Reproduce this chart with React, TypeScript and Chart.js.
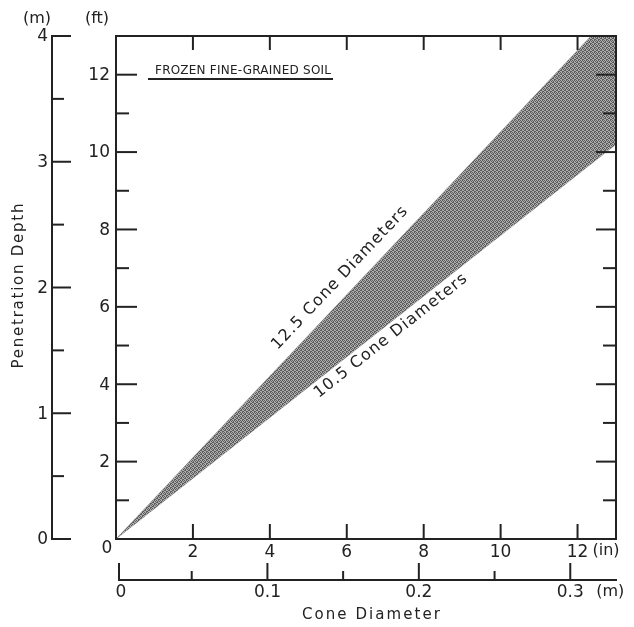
import React, { useEffect, useRef } from "react";
import { Chart, registerables } from "chart.js";

Chart.register(...registerables);

// ---- data ----
const diameterIn = [0, 12.35, 13];
const upperFt = [0, 13, 13]; // "12.5 Cone Diameters" boundary (clipped at 13 ft)
const lowerFt = [0, 9.69, 10.2]; // "10.5 Cone Diameters" boundary

const inTicks = [2, 4, 6, 8, 10, 12];
const inLabels = ["2", "4", "6", "8", "10", "12"];
const ftTicks = [1, 2, 3, 4, 5, 6, 7, 8, 9, 10, 11, 12];
const ftLabelTicks = [2, 4, 6, 8, 10, 12];
const ftLabels = ["2", "4", "6", "8", "10", "12"];
const mDepthTicks = [0, 0.5, 1, 1.5, 2, 2.5, 3, 3.5, 4];
const mDepthLabelTicks = [0, 1, 2, 3, 4];
const mDepthLabels = ["0", "1", "2", "3", "4"];
const mDiamTicks = [0, 0.05, 0.1, 0.15, 0.2, 0.25, 0.3];
const mDiamLabelTicks = [0, 0.1, 0.2, 0.3];
const mDiamLabels = ["0", "0.1", "0.2", "0.3"];

const title = "FROZEN FINE-GRAINED SOIL";
const upperLabel = "12.5 Cone Diameters";
const lowerLabel = "10.5 Cone Diameters";
const upperLabelPos = { x: 4.2, y: 4.88 };
const lowerLabelPos = { x: 5.27, y: 3.64 };

const FONT = '"DejaVu Sans", "Open Sans", sans-serif';
const INK = "#222222";

function makePattern(): CanvasPattern | string {
  const c = document.createElement("canvas");
  c.width = 4;
  c.height = 4;
  const g = c.getContext("2d");
  if (!g) return "#8a8a8a";
  g.fillStyle = "#adadad";
  g.fillRect(0, 0, 4, 4);
  g.fillStyle = "#5c5c5c";
  const dark = [
    [0, 0], [2, 0], [1, 1], [3, 1], [0, 2], [1, 2], [3, 3], [2, 3],
  ];
  dark.forEach(([x, y]) => g.fillRect(x, y, 1, 1));
  const p = g.createPattern(c, "repeat");
  return p || "#8a8a8a";
}

function spacedText(
  ctx: CanvasRenderingContext2D,
  text: string,
  x: number,
  y: number,
  targetW: number,
  align: "left" | "center" = "left"
) {
  ctx.save();
  (ctx as any).letterSpacing = "0px";
  const w = ctx.measureText(text).width;
  const s = Math.max(0, (targetW - w) / Math.max(1, text.length - 1));
  (ctx as any).letterSpacing = `${s}px`;
  ctx.textAlign = "left";
  const sx = align === "center" ? x - targetW / 2 : x;
  ctx.fillText(text, sx, y);
  ctx.restore();
}

const axesPlugin = {
  id: "customAxes",
  afterDraw(chart: any) {
    const ctx: CanvasRenderingContext2D = chart.ctx;
    const { left, right, top, bottom } = chart.chartArea;
    const sx = chart.scales.x;
    const sy = chart.scales.y;
    const sxm = chart.scales.xm;
    const sym = chart.scales.ym;

    ctx.save();
    ctx.strokeStyle = INK;
    ctx.fillStyle = INK;
    ctx.lineWidth = 2;
    ctx.lineCap = "butt";

    const line = (x1: number, y1: number, x2: number, y2: number) => {
      ctx.beginPath();
      ctx.moveTo(x1, y1);
      ctx.lineTo(x2, y2);
      ctx.stroke();
    };

    // frame
    ctx.beginPath();
    ctx.rect(left, top, right - left, bottom - top);
    ctx.stroke();

    // ft ticks, left and right (inward)
    ftTicks.forEach((v) => {
      const py = sy.getPixelForValue(v);
      const major = v % 2 === 0;
      line(left, py, left + (major ? 21 : 13), py);
      line(right, py, right - (major ? 20 : 13), py);
    });
    // in ticks, bottom and top (inward)
    inTicks.forEach((v) => {
      const px = sx.getPixelForValue(v);
      line(px, bottom, px, bottom - 15);
      line(px, top, px, top + 14);
    });

    // labels
    ctx.font = `17px ${FONT}`;
    ctx.textBaseline = "middle";
    ctx.textAlign = "right";
    ftLabelTicks.forEach((v, i) => {
      ctx.fillText(ftLabels[i], left - 6, sy.getPixelForValue(v) + 1);
    });
    ctx.textAlign = "center";
    inLabels.forEach((lab, i) => {
      ctx.fillText(lab, sx.getPixelForValue(inTicks[i]), bottom + 14);
    });
    // origin 0
    ctx.fillText("0", left - 9, bottom + 10);

    ctx.font = `16px ${FONT}`;
    ctx.textAlign = "left";
    ctx.fillText("(in)", sx.getPixelForValue(12) + 15, bottom + 12);

    // left metre axis
    const mx = 52;
    line(mx, sym.getPixelForValue(0) + 1, mx, sym.getPixelForValue(4) - 1);
    mDepthTicks.forEach((v) => {
      const py = sym.getPixelForValue(v);
      const major = Number.isInteger(v);
      line(mx - 1, py, mx + (major ? 19 : 12), py);
    });
    ctx.font = `17px ${FONT}`;
    ctx.textAlign = "right";
    mDepthLabelTicks.forEach((v, i) => {
      ctx.fillText(mDepthLabels[i], mx - 4, sym.getPixelForValue(v) + 1);
    });

    // bottom metre axis
    const my = 580;
    line(sxm.getPixelForValue(0) + 2, my, sxm.getPixelForValue(sxm.max) + 1, my);
    mDiamTicks.forEach((v) => {
      const px = sxm.getPixelForValue(v) + (v === 0 ? 3 : 0);
      const major = Math.abs((v * 10) - Math.round(v * 10)) < 1e-6;
      line(px, my + 1, px, my - (major ? 17 : 9));
    });
    ctx.textAlign = "center";
    mDiamLabelTicks.forEach((v, i) => {
      const px = sxm.getPixelForValue(v) + (v === 0 ? 5 : 0);
      ctx.fillText(mDiamLabels[i], px, my + 13);
    });
    ctx.font = `16px ${FONT}`;
    ctx.textAlign = "left";
    ctx.fillText("(m)", sxm.getPixelForValue(0.3) + 26, my + 12);

    // unit headers
    ctx.font = `16px ${FONT}`;
    ctx.textAlign = "center";
    ctx.fillText("(m)", 37, 19);
    ctx.fillText("(ft)", 97, 19);

    // axis titles
    ctx.font = `15px ${FONT}`;
    ctx.textBaseline = "middle";
    spacedText(ctx, "Cone Diameter", 371, 615, 138, "center");
    ctx.save();
    ctx.translate(19, 286);
    ctx.rotate(-Math.PI / 2);
    spacedText(ctx, "Penetration Depth", 0, 0, 165, "center");
    ctx.restore();

    // title with underline
    ctx.font = `12px ${FONT}`;
    ctx.textBaseline = "alphabetic";
    spacedText(ctx, title, 155, 74, 176, "left");
    line(148, 79, 333, 79);

    // band labels
    const p0x = sx.getPixelForValue(0);
    const p0y = sy.getPixelForValue(0);
    const angU = Math.atan2(
      sy.getPixelForValue(upperFt[1]) - p0y,
      sx.getPixelForValue(diameterIn[1]) - p0x
    );
    const angL = Math.atan2(
      sy.getPixelForValue(lowerFt[2]) - p0y,
      sx.getPixelForValue(diameterIn[2]) - p0x
    );
    ctx.font = `16px ${FONT}`;
    ctx.textBaseline = "alphabetic";
    ctx.save();
    ctx.translate(sx.getPixelForValue(upperLabelPos.x), sy.getPixelForValue(upperLabelPos.y));
    ctx.rotate(angU);
    spacedText(ctx, upperLabel, 0, 0, 190, "left");
    ctx.restore();
    ctx.save();
    ctx.translate(sx.getPixelForValue(lowerLabelPos.x), sy.getPixelForValue(lowerLabelPos.y));
    ctx.rotate(angL);
    spacedText(ctx, lowerLabel, 0, 0, 190, "left");
    ctx.restore();

    ctx.restore();
  },
};

export default function App() {
  const ref = useRef<HTMLCanvasElement | null>(null);

  useEffect(() => {
    document.body.style.margin = "0";
    document.body.style.background = "#ffffff";
    const canvas = ref.current;
    if (!canvas) return;
    const pattern = makePattern();
    const chart = new Chart(canvas, {
      type: "line",
      data: {
        datasets: [
          {
            label: "12.5 Cone Diameters",
            data: diameterIn.map((x, i) => ({ x, y: upperFt[i] })),
            borderColor: "#888888",
            borderWidth: 0.5,
            pointRadius: 0,
            backgroundColor: pattern as any,
            fill: "+1",
          },
          {
            label: "10.5 Cone Diameters",
            data: diameterIn.map((x, i) => ({ x, y: lowerFt[i] })),
            borderColor: "#888888",
            borderWidth: 0.5,
            pointRadius: 0,
            fill: false,
          },
        ],
      },
      options: {
        animation: false,
        responsive: false,
        events: [],
        layout: { padding: { left: 116, right: 18, top: 36, bottom: 88 } },
        plugins: {
          legend: { display: false },
          tooltip: { enabled: false },
          title: { display: false },
        },
        scales: {
          x: { type: "linear", min: 0, max: 13, display: false },
          y: { type: "linear", min: 0, max: 13, display: false },
          xm: { type: "linear", axis: "x", min: 0, max: 13 * 0.0254, display: false },
          ym: { type: "linear", axis: "y", min: 0, max: 4, display: false },
        },
      },
      plugins: [axesPlugin],
    } as any);
    return () => chart.destroy();
  }, []);

  return (
    <div style={{ width: 634, height: 627, background: "#fff" }}>
      <canvas ref={ref} width={634} height={627} style={{ display: "block" }} />
    </div>
  );
}
